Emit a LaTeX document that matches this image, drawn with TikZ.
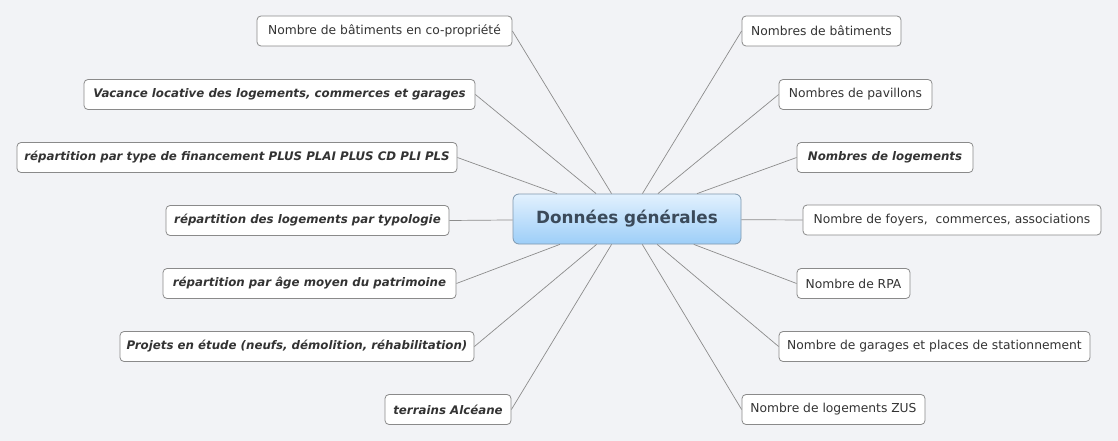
\documentclass[tikz,border=0pt]{standalone}
\usepackage{fontspec}
\setmainfont{DejaVu Sans}
\usetikzlibrary{shadings}
\definecolor{bg}{HTML}{F2F3F6}
\definecolor{edgegray}{HTML}{8C8C8C}
\definecolor{boxborder}{HTML}{8A8A8A}
\definecolor{txt}{HTML}{333333}
\definecolor{ctop}{HTML}{E2F1FE}
\definecolor{cbot}{HTML}{9DCEF8}
\definecolor{cborder}{HTML}{7F98AE}
\definecolor{ctxt}{HTML}{3B4A5A}
\tikzset{
  leaf/.style={draw=boxborder, fill=white, rounded corners=4pt, line width=0.8pt,
    minimum height=30, inner sep=0pt, text=txt, font=\fontsize{12.3}{14}\selectfont},
  leafbi/.style={leaf, font=\fontsize{11.8}{14}\selectfont\bfseries\itshape},
  hub/.style={draw=cborder, line width=0.8pt, rounded corners=6pt, top color=ctop, bottom color=cbot,
    minimum width=228, minimum height=50, inner sep=0pt, text=ctxt,
    font=\fontsize{16.8}{20}\selectfont\bfseries},
  link/.style={draw=edgegray, line width=0.7pt}
}
\begin{document}
\begin{tikzpicture}[x=1pt,y=-1pt]
\fill[bg] (0,0) rectangle (1118,441);
\useasboundingbox (0,0) rectangle (1118,441);
\node[hub] (c) at (627,219) {Données générales};
% left
\node[leaf, minimum width=255] (L1) at (384.5,31) {Nombre de bâtiments en co-propriété};
\node[leafbi, minimum width=391] (L2) at (279.5,94.5) {Vacance locative des logements, commerces et garages};
\node[leafbi, minimum width=440] (L3) at (237,157.5) {répartition par type de financement PLUS PLAI PLUS CD PLI PLS};
\node[leafbi, minimum width=283] (L4) at (307.5,220.5) {répartition des logements par typologie};
\node[leafbi, minimum width=293] (L5) at (309.5,283.5) {répartition par âge moyen du patrimoine};
\node[leafbi, minimum width=354] (L6) at (297,346.5) {Projets en étude (neufs, démolition, réhabilitation)};
\node[leafbi, minimum width=126] (L7) at (448,409.5) {terrains Alcéane};
% right
\node[leaf, minimum width=159] (R1) at (821.5,31) {Nombres de bâtiments};
\node[leaf, minimum width=153] (R2) at (855.5,94.5) {Nombres de pavillons};
\node[leafbi, minimum width=176] (R3) at (885,157.5) {Nombres de logements};
\node[leaf, minimum width=298] (R4) at (952,220) {Nombre de foyers,\ \ commerces, associations};
\node[leaf, minimum width=113] (R5) at (853.5,283.5) {Nombre de RPA};
\node[leaf, minimum width=311] (R6) at (934.5,346.5) {Nombre de garages et places de stationnement};
\node[leaf, minimum width=183] (R7) at (833.5,409.5) {Nombre de logements ZUS};
\foreach \n in {L1,L2,L3,L4,L5,L6,L7} \draw[link] (c) -- (\n.east);
\foreach \n in {R1,R2,R3,R4,R5,R6,R7} \draw[link] (c) -- (\n.west);
\end{tikzpicture}
\end{document}
